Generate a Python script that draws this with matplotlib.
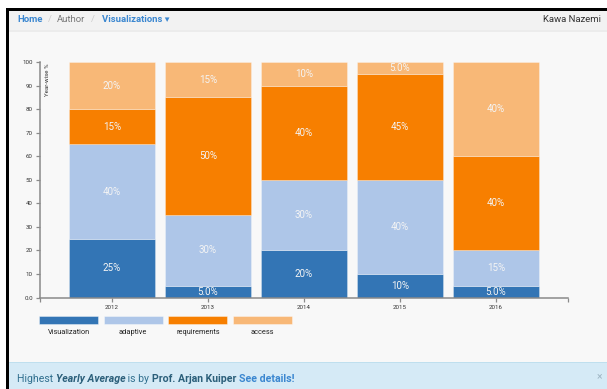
import matplotlib.pyplot as plt
from matplotlib.patches import Rectangle

plt.rcParams['font.family'] = ['Roboto', 'DejaVu Sans']

years = ['2012', '2013', '2014', '2015', '2016']
series = ['Visualization', 'adaptive', 'requirements', 'access']
visualization = [25, 5, 20, 10, 5]
adaptive = [40, 30, 30, 40, 15]
requirements = [15, 50, 40, 45, 40]
access = [20, 15, 10, 5, 40]
colors = ['#3375b5', '#aec6e8', '#f77f00', '#f8b877']
yticks = [0, 10, 20, 30, 40, 50, 60, 70, 80, 90, 100]

W, H = 607, 389
fig = plt.figure(figsize=(W / 100, H / 100), dpi=100)
fig.patch.set_facecolor('white')


def box(x0, y0, x1, y1, zorder=-5, **kw):
    # rectangle in pixel coordinates measured from the top-left corner
    fig.patches.append(Rectangle((x0 / W, 1 - y1 / H), (x1 - x0) / W, (y1 - y0) / H,
                                 transform=fig.transFigure, figure=fig, zorder=zorder, **kw))


def ftext(x, y, s, **kw):
    return fig.text(x / W, 1 - y / H, s, **kw)


# page background, navbar and frame
box(9, 11, W, H, facecolor='#f8f8f8', edgecolor='none')
box(9, 11, W, 31, facecolor='#f2f2f2', edgecolor='none')
box(9, 30.5, W, 31.5, facecolor='#ececec', edgecolor='none')
box(6, 8, W, 11, facecolor='black', edgecolor='none', zorder=5)
box(6, 8, 9, H, facecolor='black', edgecolor='none', zorder=5)

ftext(17, 19.5, 'Home', color='#3b87d0', fontsize=6.8, fontweight='bold', va='center')
ftext(48, 19.5, '/', color='#cccccc', fontsize=6.8, va='center')
ftext(57, 19.5, 'Author', color='#777777', fontsize=6.8, va='center')
ftext(91, 19.5, '/', color='#cccccc', fontsize=6.8, va='center')
ftext(102, 19.5, 'Visualizations \u25be', color='#3b87d0', fontsize=6.8,
      fontweight='bold', va='center')
ftext(601, 19.5, 'Kawa Nazemi', color='#333333', fontsize=6.8, va='center', ha='right')

# stacked bar chart
ax = fig.add_axes([40 / W, 1 - 297.5 / H, 528 / W, 235.5 / H])
ax.set_facecolor('none')
x = list(range(len(years)))
bottom = [0] * len(years)
for name, vals, c in zip(series, [visualization, adaptive, requirements, access], colors):
    ax.bar(x, vals, width=0.9, bottom=bottom, color=c, edgecolor='#ffffff55', linewidth=0.6)
    for i, v in enumerate(vals):
        label = f'{v:.1f}%' if v < 10 else f'{v:.0f}%'
        ax.text(i, bottom[i] + v / 2, label, ha='center', va='center',
                color='#f4f4f4', fontsize=7)
    bottom = [b + v for b, v in zip(bottom, vals)]

ax.set_xlim(-0.75, len(years) - 0.25)
ax.set_ylim(0, 100)
ax.set_xticks(x)
ax.set_xticklabels(years)
ax.set_xticks([-0.75, len(years) - 0.25], minor=True)
ax.set_yticks(yticks)
ax.set_yticklabels(['0.0'] + [str(t) for t in yticks[1:]])
for s in ['top', 'right']:
    ax.spines[s].set_visible(False)
for s in ['left', 'bottom']:
    ax.spines[s].set_color('#8a8a8a')
    ax.spines[s].set_linewidth(1.1)
ax.tick_params(which='both', length=3.2, width=0.9, color='#8a8a8a',
               labelsize=4.4, labelcolor='#333333', pad=2)
ax.tick_params(axis='x', which='minor', length=3.2)
ax.annotate('Year-wise %', xy=(0, 1), xycoords='axes fraction', xytext=(5.5, -1),
            textcoords='offset points', rotation=90, ha='center', va='top',
            fontsize=4.4, color='#333333')

# legend row: wide swatches with the name underneath
for k, (name, c) in enumerate(zip(series, colors)):
    x0 = 39 + k * 64.7
    box(x0, 316, x0 + 59, 324, zorder=2, facecolor=c, edgecolor='#ffffff88', linewidth=0.5)
    ftext(x0 + 29.5, 332.8, name, ha='center', va='center', fontsize=5.3, color='#222222')

# info alert along the bottom
box(9, 362, W, H, facecolor='#d5eaf6', edgecolor='none')
box(9, 362, W, 363.2, facecolor='#bfdfee', edgecolor='none')

fig.canvas.draw()
renderer = fig.canvas.get_renderer()
parts = [('Highest ', {'color': '#31708f'}),
         ('Yearly Average', {'color': '#2b5f7a', 'fontweight': 'bold', 'fontstyle': 'italic'}),
         (' is by ', {'color': '#31708f'}),
         ('Prof. Arjan Kuiper', {'color': '#2b5f7a', 'fontweight': 'bold'}),
         (' ', {'color': '#31708f'}),
         ('See details!', {'color': '#3b87d0', 'fontweight': 'bold'})]
cx = 17
for s, kw in parts:
    t = ftext(cx, 378.5, s, fontsize=7.6, va='center', **kw)
    bb = t.get_window_extent(renderer)
    cx += bb.width
ftext(599, 377.5, '\u00d7', fontsize=7.5, color='#9fb6c4', ha='center', va='center')

fig.savefig('out.png', dpi=100, facecolor=fig.get_facecolor())
